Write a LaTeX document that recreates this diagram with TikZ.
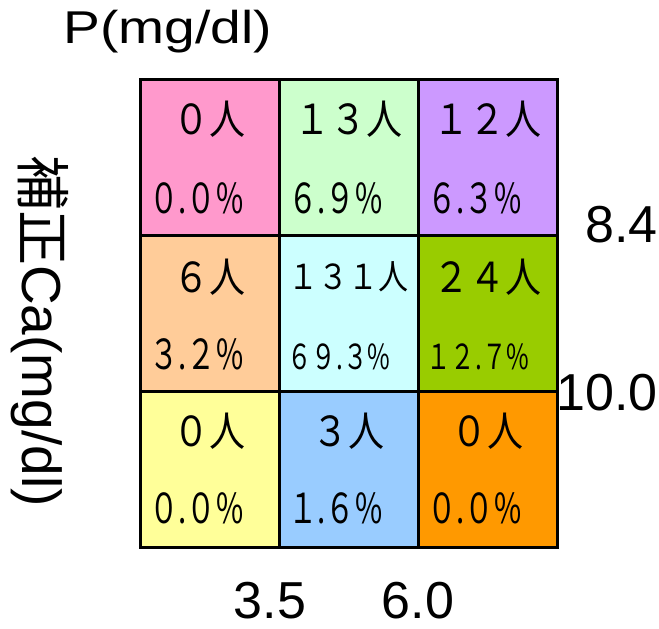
\documentclass[tikz,border=0pt]{standalone}
\usepackage{fontspec}
\setmainfont{Liberation Sans}
\newfontfamily\jpfont{Noto Sans CJK JP}
\usetikzlibrary{calc, positioning}

\definecolor{cpink}{HTML}{FF99CC}
\definecolor{cmint}{HTML}{CCFFCC}
\definecolor{clilac}{HTML}{CC99FF}
\definecolor{cpeach}{HTML}{FFCC99}
\definecolor{cice}{HTML}{CCFFFF}
\definecolor{clime}{HTML}{99CC00}
\definecolor{clemon}{HTML}{FFFF99}
\definecolor{csky}{HTML}{99CCFF}
\definecolor{corange}{HTML}{FF9900}

\begin{document}
\begin{tikzpicture}[
            x=1pt, y=1pt,
            node distance=0pt,
            cell/.style={draw, line width=3pt, outer sep=0pt, inner sep=0pt, minimum width=139pt, minimum height=156pt},
            count/.style={anchor=base, inner sep=0pt, yscale=1.15, transform shape, font=\jpfont\fontsize{36}{40}\selectfont},
            share/.style={anchor=base west, inner sep=0pt, xscale=0.82, yscale=1.15, transform shape, font=\jpfont\fontsize{36}{40}\selectfont},
            tick/.style={inner sep=0pt, font=\fontsize{52}{60}\selectfont}
        ]
        \useasboundingbox (0, 0) rectangle (659, -629);

        % Cells
        \node [cell, fill=cpink] (c11) at (209.5, -157) {};
        \node [cell, fill=cmint, right=of c11] (c12) {};
        \node [cell, fill=clilac, right=of c12] (c13) {};
        \node [cell, fill=cpeach, below=of c11] (c21) {};
        \node [cell, fill=cice, right=of c21] (c22) {};
        \node [cell, fill=clime, right=of c22] (c23) {};
        \node [cell, fill=clemon, below=of c21] (c31) {};
        \node [cell, fill=csky, right=of c31] (c32) {};
        \node [cell, fill=corange, right=of c32] (c33) {};

        % Counts
        \node [count] (n11) at ($(c11.north) + (0, -55)$) {０人};
        \node [count] (n12) at ($(c12.north) + (0, -55)$) {１３人};
        \node [count] (n13) at ($(c13.north) + (0, -55)$) {１２人};
        \node [count] (n21) at ($(c21.north) + (0, -57)$) {６人};
        \node [count, font=\jpfont\fontsize{30}{36}\selectfont] (n22) at ($(c22.north) + (0, -54)$) {１３１人};
        \node [count] (n23) at ($(c23.north) + (0, -57)$) {２４人};
        \node [count] (n31) at ($(c31.north) + (0, -55)$) {０人};
        \node [count] (n32) at ($(c32.north) + (0, -55)$) {３人};
        \node [count] (n33) at ($(c33.north) + (0, -55)$) {０人};

        % Shares
        \node [share] (p11) at ($(c11.north west) + (9, -134)$) {０.０\%};
        \node [share] (p12) at ($(c12.north west) + (9, -134)$) {６.９\%};
        \node [share] (p13) at ($(c13.north west) + (9, -134)$) {６.３\%};
        \node [share] (p21) at ($(c21.north west) + (9, -134)$) {３.２\%};
        \node [share, font=\jpfont\fontsize{30}{36}\selectfont] (p22) at ($(c22.north west) + (8, -134)$) {６９.３\%};
        \node [share, font=\jpfont\fontsize{30}{36}\selectfont] (p23) at ($(c23.north west) + (8, -134)$) {１２.７\%};
        \node [share] (p31) at ($(c31.north west) + (9, -132)$) {０.０\%};
        \node [share] (p32) at ($(c32.north west) + (9, -132)$) {１.６\%};
        \node [share] (p33) at ($(c33.north west) + (9, -132)$) {０.０\%};

        % Axis labels
        \node [anchor=base, inner sep=0pt, xscale=1.2, transform shape, font=\fontsize{46}{52}\selectfont] (plab) at ($(c11.north) + (-42, 36)$) {P(mg/dl)};
        \node [anchor=base, inner sep=0pt, rotate=-90, font=\fontsize{55}{60}\selectfont] (calab) at ($(c21.west) + (-118, -18)$) {{\jpfont 補正}Ca(mg/dl)};

        % Limits
        \node [tick, anchor=base east] (t84) at ($(c13.south east) + (101, -7)$) {8.4};
        \node [tick, anchor=base east] (t100) at ($(c23.south east) + (101, -19)$) {10.0};
        \node [tick, anchor=base] (t35) at ($(c31.south east) + (-9, -71)$) {3.5};
        \node [tick, anchor=base] (t60) at ($(c32.south east) + (0, -71)$) {6.0};
    \end{tikzpicture}
\end{document}
